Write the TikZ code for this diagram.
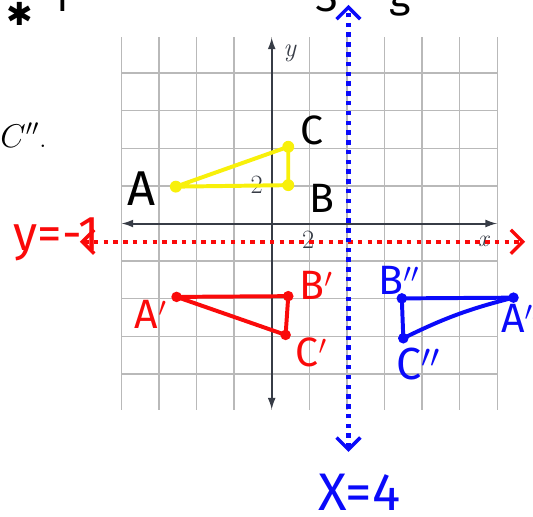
\documentclass[tikz,border=0pt]{standalone}
\usepackage{fontspec}
\usepackage{tikz}
\usetikzlibrary{arrows.meta}
\newfontfamily\hand{Fira Sans}
\newfontfamily\symfont{DejaVu Sans}
\definecolor{penred}{RGB}{250,10,10}
\definecolor{penblue}{RGB}{10,10,250}
\definecolor{penyellow}{RGB}{248,240,10}
\definecolor{gridgray}{RGB}{185,185,185}
\definecolor{bookink}{RGB}{55,60,70}

\begin{document}
\begin{tikzpicture}[x=1cm,y=0.9907cm,
  gridline/.style={gridgray,line width=1.1pt},
  axis/.style={bookink,line width=1.5pt,{Latex[length=9pt,width=6pt]}-{Latex[length=9pt,width=6pt]}},
  tri/.style={line width=3pt,line join=round,line cap=round},
  vdot/.style={circle,fill,inner sep=0pt,minimum size=#1},
  vdot/.default=8pt,
  hand/.style={font=\hand\fontsize{31}{31}\selectfont},
  mirror/.style={line width=3.4pt,dash pattern=on 3.4pt off 4pt,
    {Straight Barb[length=9pt,width=18pt,line width=2.6pt]}-{Straight Barb[length=9pt,width=18pt,line width=2.6pt]}},
  book/.style={text=bookink,font=\fontsize{20}{20}\selectfont,inner sep=0pt}]
\useasboundingbox (-7.226,-7.852) rectangle (6.949,6.0);
\clip (-7.226,-7.852) rectangle (6.949,6.0);

\draw[gridline] (-4,-5) grid (6,5);
\draw[axis] (-4,0) -- (6,0);
\draw[axis] (0,-5) -- (0,5);
\node[book,font=\itshape\fontsize{20}{20}\selectfont] (ylab) at (0.48,4.58) {y};
\node[book,font=\itshape\fontsize{18}{18}\selectfont] (xlab) at (5.63,-0.49) {x};
\node[book] (ytick) at (-0.4,1.03) {2};
\node[book] (xtick) at (0.97,-0.44) {2};
\node[book,text=black,font=\fontsize{23}{23}\selectfont] (cpp) at (-6.6,2.38) {$C''$.};

% scribbles cut off at the top
\node[font=\symfont\fontsize{24}{24}\selectfont] (star) at (-6.69,5.62) {✱};
\node[hand,anchor=base] (top1) at (-5.63,5.68) {1};
\node[hand,anchor=base] (topS) at (1.45,5.68) {S};
\node[hand,anchor=base] (topg) at (3.41,5.81) {g};

% lines of reflection
\coordinate (rl) at (-5.1,-0.49);
\coordinate (rr) at (6.74,-0.49);
\coordinate (bt) at (2.04,5.87);
\coordinate (bb) at (2.04,-6.13);
\draw[mirror,penred] (rl) -- (rr);
\draw[mirror,penblue] (bb) -- (bt);
\node[hand,text=penred,font=\hand\fontsize{37}{37}\selectfont] (yeq) at (-5.72,-0.42) {y=-1};
\node[hand,text=penblue,font=\hand\fontsize{40}{40}\selectfont] (xeq) at (2.33,-7.22) {X=4};

% ABC
\coordinate (A) at (-2.55,0.99);
\coordinate (B) at (0.44,1.03);
\coordinate (C) at (0.44,2.06);
\draw[tri,penyellow] (A) -- (B) -- (C) -- cycle;
\foreach \p in {A,B,C} \node[vdot=9pt,penyellow] at (\p) {};
\node[hand,font=\hand\fontsize{37}{37}\selectfont] (lA) at (-3.46,0.94) {A};
\node[hand] (lB) at (1.33,0.68) {B};
\node[hand] (lC) at (1.06,2.51) {C};

% A'B'C'
\coordinate (A1) at (-2.53,-1.97);
\coordinate (B1) at (0.44,-1.95);
\coordinate (C1) at (0.37,-2.99);
\draw[tri,penred] (A1) -- (B1) -- (C1) -- cycle;
\foreach \p in {A1,B1,C1} \node[vdot,penred] at (\p) {};
\node[hand,text=penred] (lA1) at (-3.22,-2.45) {A$'$};
\node[hand,text=penred] (lB1) at (1.18,-1.66) {B$'$};
\node[hand,text=penred] (lC1) at (1.05,-3.45) {C$'$};

% A''B''C''
\coordinate (A2) at (6.43,-1.99);
\coordinate (B2) at (3.46,-2.01);
\coordinate (C2) at (3.5,-3.08);
\draw[tri,penblue] (B2) -- (A2) to[bend right=6] (C2) -- cycle;
\foreach \p in {A2,B2,C2} \node[vdot,penblue] at (\p) {};
\node[hand,text=penblue] (lA2) at (6.62,-2.55) {A$''$};
\node[hand,text=penblue] (lB2) at (3.38,-1.52) {B$''$};
\node[hand,text=penblue,font=\hand\fontsize{34}{34}\selectfont] (lC2) at (3.9,-3.78) {C$''$};
\end{tikzpicture}
\end{document}
